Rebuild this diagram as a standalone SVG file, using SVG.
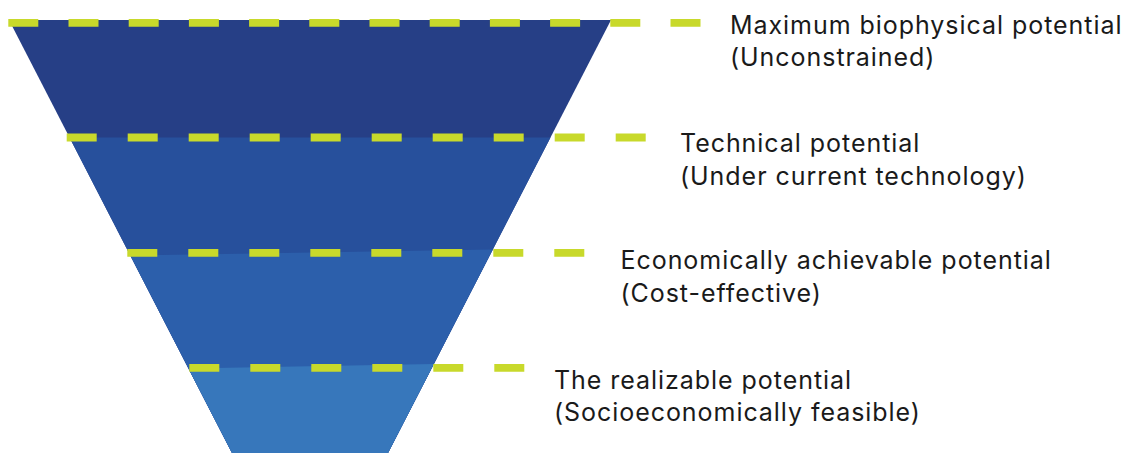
<svg xmlns="http://www.w3.org/2000/svg" width="1135" height="453" viewBox="0 0 1135 453">
  <style>
    .lbl { font-family: Inter, "Noto Sans", "Liberation Sans", sans-serif; font-size: 25px; letter-spacing: 0.95px; fill: #1a1a1a; }
    .dash { stroke: #c8d92b; stroke-width: 7.8; fill: none; stroke-linecap: butt; }
    .d1 { stroke-dasharray: 30 30.2; }
    .d2 { stroke-dasharray: 30 31; }
  </style>
  <rect width="1135" height="453" fill="#ffffff"/>
  <g id="band-max">
    <polygon points="9,20 611,20 388,453 232,453" fill="#263f86"/>
    <text class="lbl" x="730" y="33.5">Maximum biophysical potential</text>
    <text class="lbl" x="730" y="66">(Unconstrained)</text>
  </g>
  <g id="band-technical">
    <polygon points="69.5,137.5 550.5,137.5 388,453 232,453" fill="#27509c"/>
    <text class="lbl" x="680" y="151.5">Technical potential</text>
    <text class="lbl" x="680" y="184.5">(Under current technology)</text>
  </g>
  <g id="band-economic">
    <polygon points="130.3,255.5 492.8,249.5 388,453 232,453" fill="#2c5fab"/>
    <text class="lbl" x="620.5" y="268.5">Economically achievable potential</text>
    <text class="lbl" x="620.5" y="301.5">(Cost-effective)</text>
  </g>
  <g id="band-realizable">
    <polygon points="188.5,368.5 433.8,364 388,453 232,453" fill="#3777bb"/>
    <text class="lbl" x="554" y="388.5">The realizable potential</text>
    <text class="lbl" x="554" y="421">(Socioeconomically feasible)</text>
  </g>
  <g id="connectors">
    <line class="dash d1" x1="8.3" y1="22.8" x2="701" y2="22.8"/>
    <line class="dash d2" x1="66.7" y1="137.5" x2="647" y2="137.5"/>
    <line class="dash d2" x1="127.3" y1="252.8" x2="585" y2="252.8"/>
    <line class="dash d2" x1="189.3" y1="367.8" x2="525" y2="367.8"/>
  </g>
</svg>
